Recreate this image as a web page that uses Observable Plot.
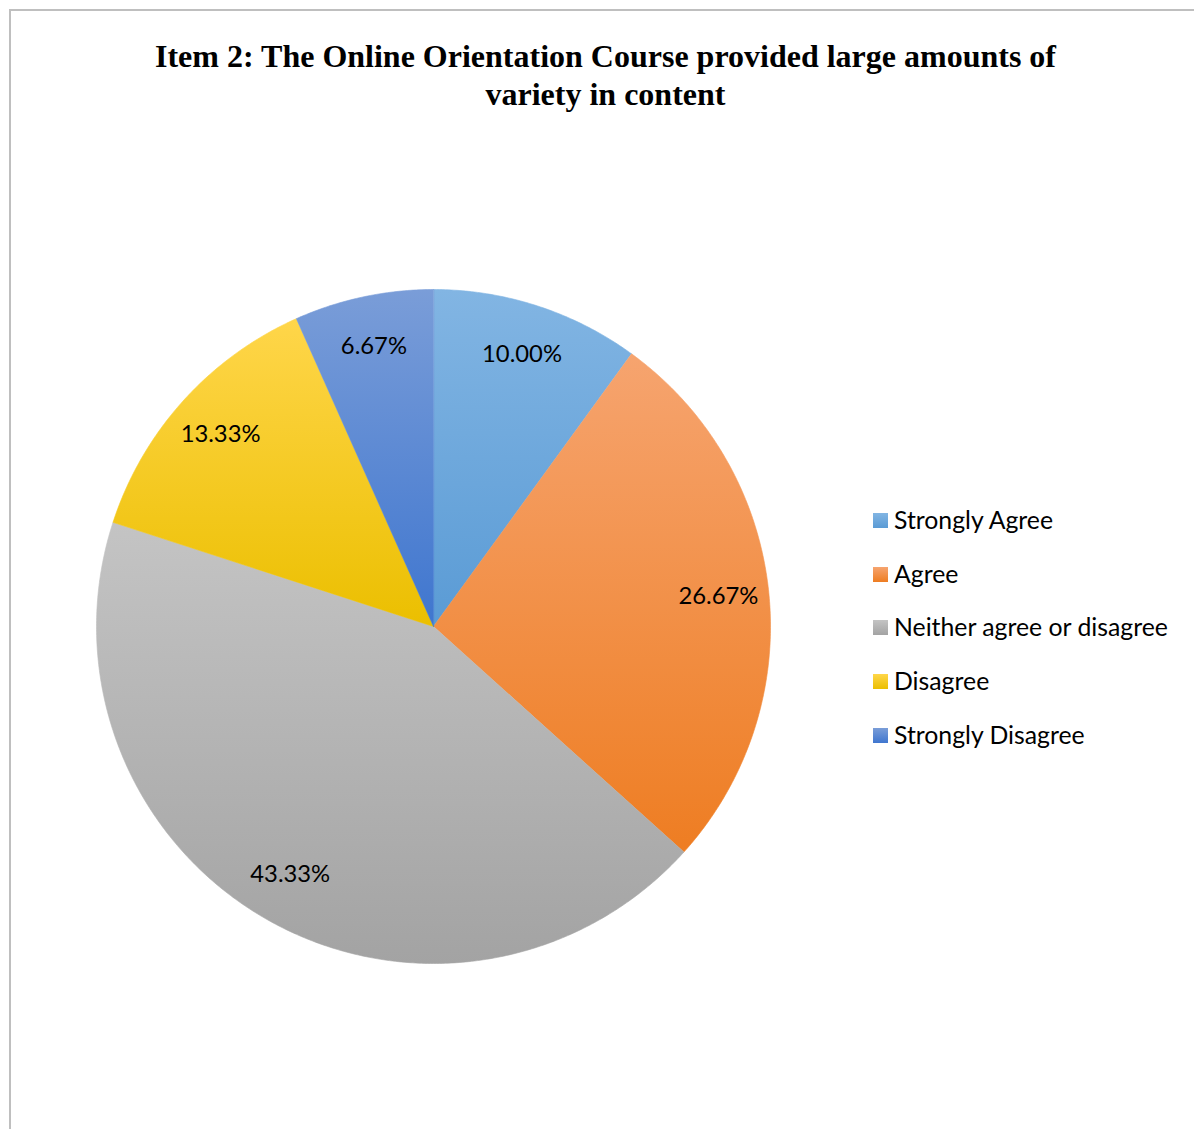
<!DOCTYPE html>
<html>
<head>
<meta charset="utf-8">
<script src="https://cdn.jsdelivr.net/npm/d3@7"></script>
<script src="https://cdn.jsdelivr.net/npm/@observablehq/plot@0.6"></script>
<style>
  html, body { margin: 0; padding: 0; background: #fff; }
  body { width: 1194px; height: 1129px; position: relative; overflow: hidden; }
  #frame { position: absolute; left: 9px; top: 9px; right: -5px; bottom: -5px;
           border-left: 2px solid #bfbfbf; border-top: 2px solid #bfbfbf; }
  #title { position: absolute; left: 0; width: 1211px; top: 37px; text-align: center;
           font-family: "Liberation Serif", "Times New Roman", serif; font-weight: bold;
           font-size: 32px; line-height: 38px; color: #000; }
  #chart { position: absolute; left: 0; top: 279px; }
  #legend { position: absolute; left: 873px; top: 505px;
            font-family: Lato, "Open Sans", sans-serif; font-size: 24.8px; color: #000; }
  .row { height: 53.7px; display: flex; align-items: flex-start; }
  .sw { width: 15px; height: 15px; margin-top: 8px; margin-right: 6px; }
</style>
</head>
<body>
<div id="frame"></div>
<div id="title">Item 2: The Online Orientation Course provided large amounts of<br>variety in content</div>
<div id="chart"></div>
<div id="legend"></div>
<script>
const categories = ["Strongly Agree", "Agree", "Neither agree or disagree", "Disagree", "Strongly Disagree"];
const percents = [10.00, 26.67, 43.33, 13.33, 6.67];
const labels = ["10.00%", "26.67%", "43.33%", "13.33%", "6.67%"];
const topColors = ["#82b5e3", "#f6a46f", "#c4c4c4", "#ffd64a", "#7a9dd8"];
const bottomColors = ["#5a9bd5", "#ee7d22", "#a3a3a3", "#ebbf00", "#3f76cf"];

const arcs = d3.pie().sort(null).value(d => d)(percents); // clockwise from 12 o'clock

// polygon points in unit-circle data space (y up)
const polys = [];
arcs.forEach((a, i) => {
  const pts = [{i, x: 0, y: 0}];
  const n = Math.max(2, Math.ceil((a.endAngle - a.startAngle) / (Math.PI / 360)));
  for (let k = 0; k <= n; k++) {
    const t = a.startAngle + (a.endAngle - a.startAngle) * k / n;
    pts.push({i, x: Math.sin(t), y: Math.cos(t)});
  }
  polys.push(...pts);
});

const labelR = 0.85;
const labelData = arcs.map((a, i) => {
  const m = (a.startAngle + a.endAngle) / 2;
  return {label: labels[i], x: labelR * Math.sin(m), y: labelR * Math.cos(m)};
});

const W = 866, H = 694;
const plot = Plot.plot({
  width: W, height: H,
  marginLeft: 96, marginRight: 96, marginTop: 10, marginBottom: 10,
  x: {domain: [-1, 1], axis: null},
  y: {domain: [-1, 1], axis: null},
  color: {type: "identity"},
  style: {background: "transparent"},
  marks: [
    Plot.line(polys, {x: "x", y: "y", z: "i", curve: "linear-closed",
      fill: d => `url(#grad${d.i})`, stroke: d => `url(#grad${d.i})`, strokeWidth: 0.6}),
    Plot.text(labelData, {x: "x", y: "y", text: "label", fill: "#000",
      fontSize: 23.8, fontFamily: "Lato, 'Open Sans', sans-serif"})
  ]
});

// per-slice vertical gradients (objectBoundingBox)
const svg = d3.select(plot);
const defs = svg.insert("defs", ":first-child");
categories.forEach((c, i) => {
  const g = defs.append("linearGradient").attr("id", `grad${i}`)
    .attr("x1", 0).attr("y1", 0).attr("x2", 0).attr("y2", 1);
  g.append("stop").attr("offset", "0%").attr("stop-color", topColors[i]);
  g.append("stop").attr("offset", "100%").attr("stop-color", bottomColors[i]);
});
document.getElementById("chart").appendChild(plot);

const legend = d3.select("#legend");
categories.forEach((c, i) => {
  const row = legend.append("div").attr("class", "row");
  row.append("div").attr("class", "sw")
    .style("background", `linear-gradient(${topColors[i]}, ${bottomColors[i]})`);
  row.append("span").text(c);
});
</script>
</body>
</html>
